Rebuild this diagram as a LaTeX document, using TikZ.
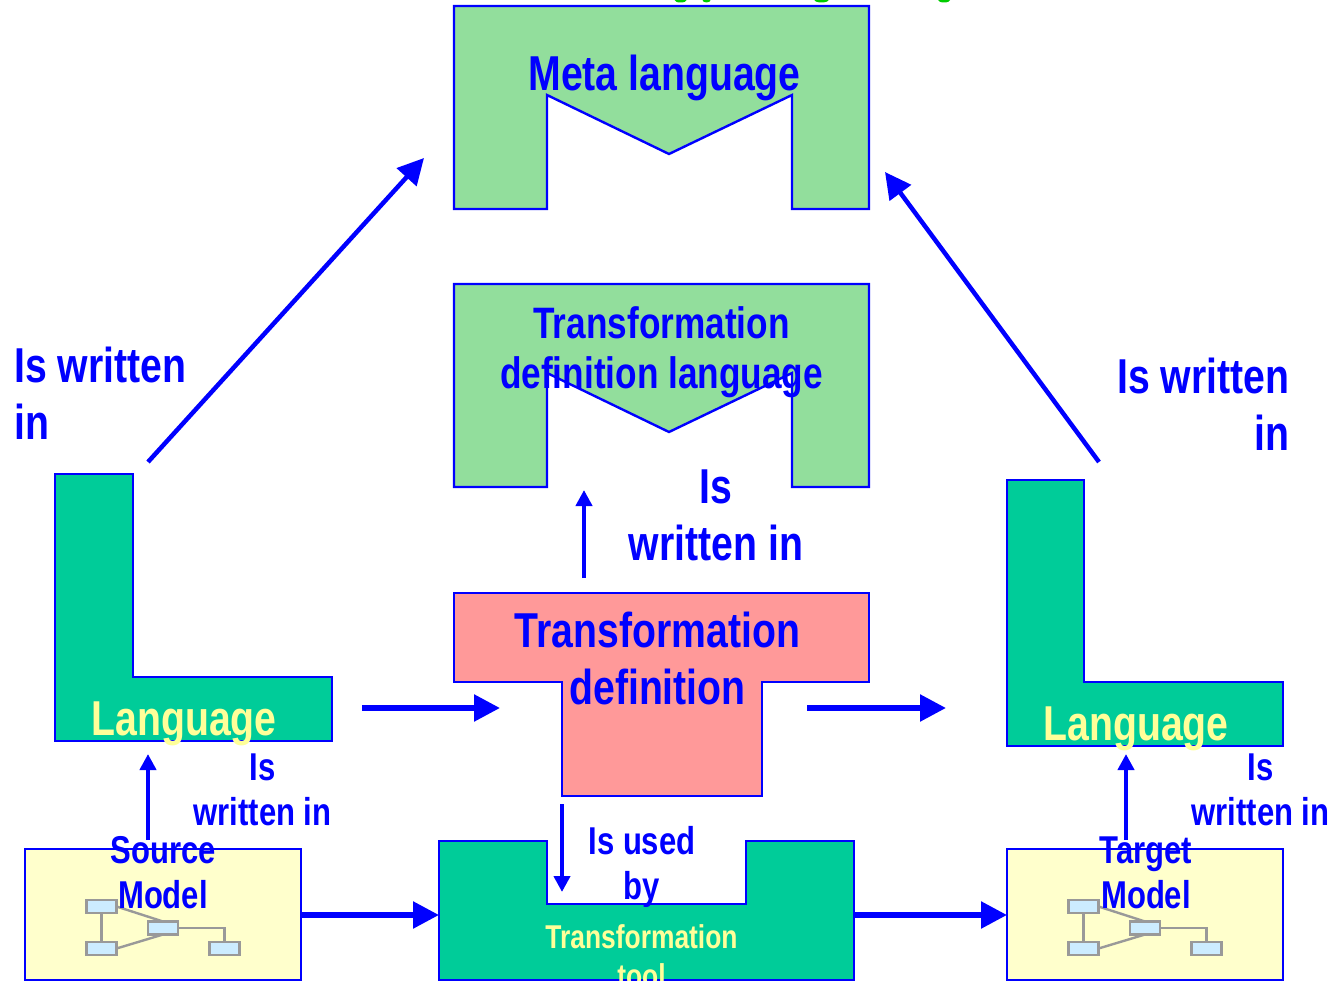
\documentclass[tikz,border=0pt]{standalone}
\usepackage{fontspec}
\setmainfont[FakeStretch=0.80]{Liberation Sans}
\usetikzlibrary{arrows.meta}
\definecolor{lineblue}{RGB}{0,0,255}
\definecolor{palegreen}{RGB}{146,222,156}
\definecolor{seagreen}{RGB}{0,204,153}
\definecolor{salmon}{RGB}{255,153,153}
\definecolor{paleyellow}{RGB}{255,255,204}
\definecolor{paleblue}{RGB}{204,236,255}
\definecolor{softyellow}{RGB}{255,255,153}
\definecolor{midgrey}{RGB}{153,153,153}
\definecolor{titlegreen}{RGB}{0,204,0}
\tikzset{
  x=1pt,y=-1pt,
  shapeline/.style={draw=lineblue,line width=2.4pt,line join=miter},
  metashape/.style={shapeline,fill=palegreen},
  langshape/.style={shapeline,fill=seagreen},
  defshape/.style={shapeline,fill=salmon},
  modelbox/.style={shapeline,fill=paleyellow,rectangle,inner sep=0pt,outer sep=0pt,anchor=north west,minimum width=276pt,minimum height=131pt},
  thickarrow/.style={draw=lineblue,line width=5.5pt,-{Triangle[length=26pt,width=26pt]}},
  slimarrow/.style={draw=lineblue,line width=4.5pt,-{Triangle[length=16pt,width=16pt]}},
  diagarrow/.style={draw=lineblue,line width=4.5pt,-{Triangle[length=26pt,width=26pt]}},
  big/.style={text=lineblue,inner sep=0pt,anchor=base,align=center,font=\bfseries\fontsize{49}{57}\selectfont},
  mid/.style={text=lineblue,inner sep=0pt,anchor=base,align=center,font=\bfseries\fontsize{44}{51}\selectfont},
  small/.style={text=lineblue,inner sep=0pt,anchor=base,align=center,font=\bfseries\fontsize{38.8}{45}\selectfont},
  langtext/.style={text=softyellow,inner sep=0pt,anchor=base,font=\bfseries\fontsize{49}{57}\selectfont},
  tooltext/.style={text=softyellow,inner sep=0pt,anchor=base,align=center,font=\bfseries\fontsize{33}{39}\selectfont},
  minibox/.style={draw=midgrey,fill=paleblue,line width=2.4pt,rectangle,inner sep=0pt,outer sep=0pt,minimum width=30pt,minimum height=13pt},
  miniline/.style={draw=midgrey,line width=2.4pt},
  minimodel/.pic={
    \node[minibox] (a) at (101.5,906.5) {};
    \node[minibox] (b) at (101.5,948.5) {};
    \node[minibox] (c) at (163,928) {};
    \node[minibox] (d) at (224.5,948.5) {};
    \draw[miniline] (a) -- (b);
    \draw[miniline] (a.east) -- (c.north);
    \draw[miniline] (b.east) -- (c.south);
    \draw[miniline] (c.east) -| (d.north);
  }
}
\begin{document}
\begin{tikzpicture}
\useasboundingbox (0,0) rectangle (1331,981);
\clip (0,0) rectangle (1331,981);
% clipped title descenders
\fill[titlegreen] (680.5,0) ellipse (6pt and 2.5pt);
\fill[titlegreen] (706.5,0) ellipse (4pt and 2.5pt);
\fill[titlegreen] (821.5,0) ellipse (7pt and 2.5pt);
\fill[titlegreen] (944,0) ellipse (6pt and 2.5pt);
% shapes
\draw[metashape] (454,6) -- (869,6) -- (869,209) -- (792,209) -- (792,95) -- (669,154) -- (547,95) -- (547,209) -- (454,209) -- cycle;
\draw[metashape] (454,284) -- (869,284) -- (869,487) -- (792,487) -- (792,373) -- (669,432) -- (547,373) -- (547,487) -- (454,487) -- cycle;
\draw[langshape] (55,474) -- (133,474) -- (133,677) -- (332,677) -- (332,741) -- (55,741) -- cycle;
\draw[langshape] (1007,480) -- (1084,480) -- (1084,682) -- (1283,682) -- (1283,746) -- (1007,746) -- cycle;
\draw[defshape] (454,593) -- (869,593) -- (869,682) -- (762,682) -- (762,796) -- (562,796) -- (562,682) -- (454,682) -- cycle;
\draw[langshape] (439,841) -- (547,841) -- (547,904) -- (746,904) -- (746,841) -- (854,841) -- (854,980) -- (439,980) -- cycle;
\node[modelbox] (source) at (25,849) {};
\node[modelbox] (target) at (1007,849) {};
\pic (sm) at (0,0) {minimodel};
\pic (tm) at (982,0) {minimodel};
% connector end points
\coordinate (ldstart) at (148,462);
\coordinate (ldend) at (424,158);
\coordinate (rdstart) at (1099,462);
\coordinate (rdend) at (885,172);
\coordinate (upstart) at (584,578);
\coordinate (upend) at (584,490);
\coordinate (lhstart) at (362,708);
\coordinate (lhend) at (500,708);
\coordinate (rhstart) at (807,708);
\coordinate (rhend) at (946,708);
\coordinate (suend) at (148,754);
\coordinate (tuend) at (1126,754);
\coordinate (dnstart) at (562,804);
\coordinate (dnend) at (562,892);
\coordinate (toolwest) at (439,915);
\coordinate (tooleast) at (854,915);
% connectors
\draw[diagarrow] (ldstart) -- (ldend);
\draw[diagarrow] (rdstart) -- (rdend);
\draw[slimarrow] (upstart) -- (upend);
\draw[thickarrow] (lhstart) -- (lhend);
\draw[thickarrow] (rhstart) -- (rhend);
\draw[slimarrow] (source.north -| suend) ++(0,-9) -- (suend);
\draw[slimarrow] (target.north -| tuend) ++(0,-9) -- (tuend);
\draw[slimarrow] (dnstart) -- (dnend);
\draw[thickarrow] (source.east |- toolwest) -- (toolwest);
\draw[thickarrow] (tooleast) -- (target.west |- tooleast);
% labels
\node[big] (tmeta) at (664.5,91) {Meta language};
\node[mid] (ttdl) at (661.5,389) {Transformation\\definition language};
\node[big] (tdef) at (657.5,704) {Transformation\\definition};
\node[big,align=left,anchor=base west] (il) at (14,439) {Is written\\in};
\node[big,align=right,anchor=base east] (ir) at (1289.5,450) {Is written\\in};
\node[big] (ic) at (716,560) {Is\\written in};
\node[small] (is) at (262.5,825) {Is\\written in};
\node[small] (it) at (1260.5,825) {Is\\written in};
\node[small] (tsrc) at (163,908) {Source\\Model};
\node[small] (ttgt) at (1146,908) {Target\\Model};
\node[small] (iu) at (642,899) {Is used\\by};
\node[langtext] (ll) at (184,735) {Language};
\node[langtext] (lr) at (1136,740) {Language};
\node[tooltext] (ttool) at (641.5,987) {Transformation\\tool};
\end{tikzpicture}
\end{document}
